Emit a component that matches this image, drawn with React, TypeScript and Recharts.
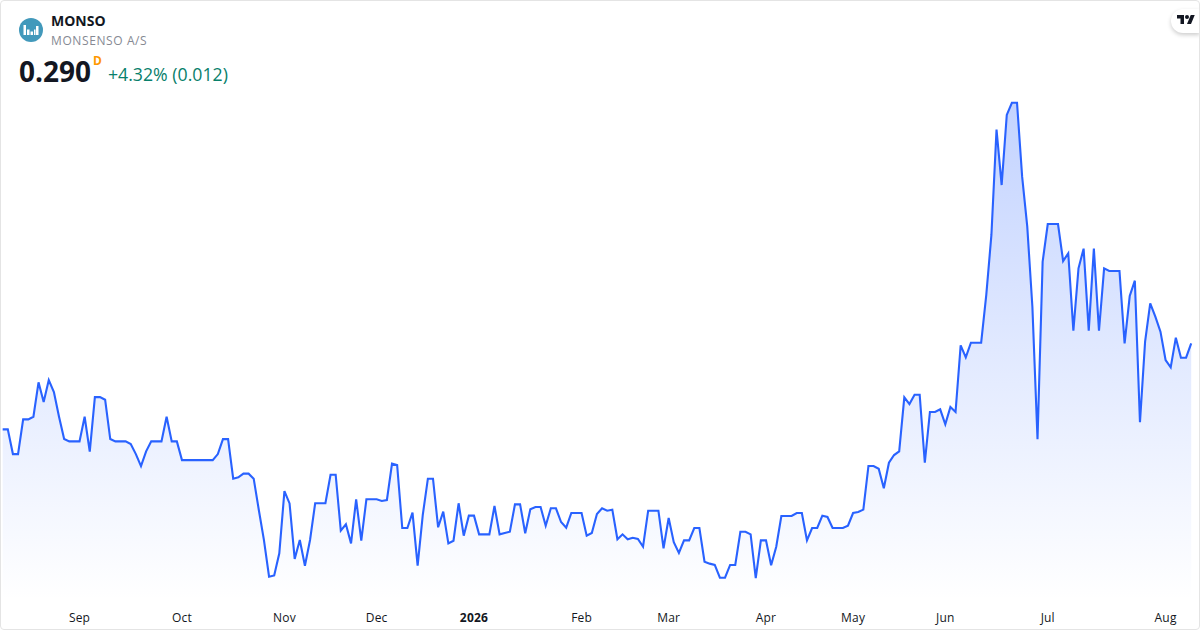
import React from "react";
import { Area, AreaChart, XAxis, YAxis } from "recharts";

// daily closes
const closes = [
  0.2183, 0.2183, 0.1977, 0.1977, 0.2266, 0.2266, 0.2288, 0.2575, 0.2411, 0.2594,
  0.2494, 0.2288, 0.2102, 0.2083, 0.2083, 0.2083, 0.2288, 0.1997, 0.2452, 0.2452,
  0.243, 0.2102, 0.2083, 0.2083, 0.2083, 0.2061, 0.1977, 0.1877, 0.2, 0.2083,
  0.2083, 0.2083, 0.2288, 0.2083, 0.2083, 0.1927, 0.1927, 0.1927, 0.1927, 0.1927,
  0.1927, 0.1927, 0.1977, 0.2102, 0.2102, 0.1772, 0.1783, 0.1814, 0.1814, 0.1772,
  0.1511, 0.126, 0.0955, 0.0966, 0.115, 0.1669, 0.1566, 0.1103, 0.1261, 0.1047,
  0.1261, 0.1567, 0.1567, 0.1567, 0.1805, 0.1805, 0.1339, 0.1392, 0.1233, 0.16,
  0.1255, 0.16, 0.16, 0.16, 0.1586, 0.1594, 0.1897, 0.1886, 0.1361, 0.1361,
  0.1489, 0.1047, 0.1469, 0.1772, 0.1772, 0.1367, 0.1497, 0.1233, 0.1255, 0.1567,
  0.1297, 0.1464, 0.1464, 0.1308, 0.1308, 0.1308, 0.1544, 0.1308, 0.1319, 0.133,
  0.1558, 0.1558, 0.1317, 0.1517, 0.1536, 0.1536, 0.138, 0.1525, 0.1525, 0.1411,
  0.1364, 0.1486, 0.1486, 0.1486, 0.1297, 0.1319, 0.1478, 0.1525, 0.1505, 0.1514,
  0.1267, 0.1308, 0.1267, 0.128, 0.1269, 0.1205, 0.1505, 0.1505, 0.1505, 0.1192,
  0.1444, 0.1242, 0.1153, 0.1258, 0.1258, 0.1361, 0.1361, 0.108, 0.1064, 0.1053,
  0.0947, 0.0947, 0.1053, 0.1053, 0.133, 0.133, 0.1308, 0.0944, 0.1258, 0.1258,
  0.105, 0.1205, 0.1461, 0.1461, 0.1461, 0.1486, 0.1486, 0.1258, 0.1361, 0.1361,
  0.1464, 0.1453, 0.1361, 0.1361, 0.1361, 0.138, 0.1486, 0.1494, 0.1514, 0.1878,
  0.1878, 0.1855, 0.1692, 0.1905, 0.1969, 0.2, 0.245, 0.2394, 0.2472, 0.2472,
  0.1905, 0.2328, 0.2328, 0.235, 0.2225, 0.2369, 0.2328, 0.2883, 0.2783, 0.2905,
  0.2905, 0.2905, 0.3303, 0.3803, 0.4682, 0.4219, 0.4803, 0.4905, 0.4905, 0.4289,
  0.3872, 0.3205, 0.21, 0.358, 0.3894, 0.3894, 0.3894, 0.3586, 0.365, 0.3005,
  0.3525, 0.3689, 0.3005, 0.3689, 0.3005, 0.3525, 0.3503, 0.3503, 0.3503, 0.29,
  0.3294, 0.3422, 0.2242, 0.2914, 0.3233, 0.3122, 0.2997, 0.2761, 0.27, 0.2947,
  0.278, 0.278, 0.29,
];
const tickPositions = [15, 35, 55, 73, 92, 113, 130, 149, 166, 184, 204, 227];
const tickLabels = ["Sep", "Oct", "Nov", "Dec", "2026", "Feb", "Mar", "Apr", "May", "Jun", "Jul", "Aug"];

const chartData = closes.map((close, i) => ({ i, close }));
const FONT = "'Open Sans', 'Noto Sans', sans-serif";

const MonthTick = ({ x, y, payload }: any) => {
  const label = tickLabels[tickPositions.indexOf(payload.value)];
  return (
    <text
      x={x}
      y={y + 14}
      textAnchor="middle"
      fontFamily={FONT}
      fontSize={12}
      letterSpacing={0.2}
      fontWeight={label === "2026" ? 700 : 400}
      fill="#131722"
    >
      {label}
    </text>
  );
};

function Header() {
  return (
    <>
      <svg width={24} height={24} viewBox="0 0 24 24" style={{ position: "absolute", left: 19, top: 18 }}>
        <circle cx={12} cy={12} r={12} fill="#4299BB" />
        <path d="M4.5 7h2.5v10H4.5zM8 11.5h2.5V17H8zM11.5 13.5H14V17h-2.5zM15 11.5h1.5V17H15zM17 8h2.5v9H17z" fill="#fff" />
      </svg>
      <div style={{ position: "absolute", left: 51, top: 12, fontSize: 14, lineHeight: "18px", fontWeight: 700, color: "#131722" }}>
        MONSO
      </div>
      <div style={{ position: "absolute", left: 51, top: 33, fontSize: 12, lineHeight: "16px", color: "#868993", letterSpacing: 0.6 }}>
        MONSENSO A/S
      </div>
      <div style={{ position: "absolute", left: 19, top: 52, fontSize: 28, lineHeight: "38px", fontWeight: 700, color: "#131722" }}>
        0.290
      </div>
      <div style={{ position: "absolute", left: 93, top: 53, fontSize: 12, lineHeight: "16px", fontWeight: 700, color: "#FF9800" }}>
        D
      </div>
      <div style={{ position: "absolute", left: 108, top: 62, fontSize: 17.7, lineHeight: "24px", color: "#08806B" }}>
        +4.32% (0.012)
      </div>
    </>
  );
}

function Badge() {
  return (
    <div
      style={{
        position: "absolute",
        left: 1171,
        top: 9,
        width: 29,
        height: 24,
        background: "#fff",
        borderRadius: "12px 0 0 12px",
        boxShadow: "0 2px 4px rgba(0,0,0,0.2)",
      }}
    >
      <svg width={18} height={14} viewBox="0 0 36 28" style={{ position: "absolute", left: 6, top: 4 }}>
        <path d="M14 22H7V11H0V4h14v18zM28 22h-8l7.5-18h8L28 22z" fill="#131722" />
        <circle cx={20} cy={8} r={4} fill="#131722" />
      </svg>
    </div>
  );
}

export default function App() {
  return (
    <div style={{ position: "relative", width: 1200, height: 630, overflow: "hidden", background: "#fff", fontFamily: FONT }}>
      <style>{`body{margin:0}`}</style>
      <AreaChart width={1200} height={630} data={chartData} margin={{ top: 0, right: 8.8, bottom: 0, left: 2.67 }}>
        <defs>
          <linearGradient id="closeFill" x1="0" y1="0" x2="0" y2="1">
            <stop offset="0%" stopColor="#2962FF" stopOpacity={0.28} />
            <stop offset="100%" stopColor="#2962FF" stopOpacity={0} />
          </linearGradient>
        </defs>
        <XAxis
          dataKey="i"
          type="number"
          domain={[0, closes.length - 1]}
          ticks={tickPositions}
          interval={0}
          height={30}
          tick={MonthTick}
          tickLine={false}
          axisLine={false}
        />
        <YAxis hide domain={[0.0761, 0.5761]} allowDataOverflow />
        <Area
          type="linear"
          dataKey="close"
          stroke="#2962FF"
          strokeWidth={2.1}
          fill="url(#closeFill)"
          fillOpacity={1}
          dot={false}
          activeDot={false}
          isAnimationActive={false}
        />
      </AreaChart>
      <Header />
      <Badge />
      <div style={{ position: "absolute", inset: 0, border: "1px solid #E4E4E4", borderRadius: 4, boxSizing: "border-box", pointerEvents: "none" }} />
    </div>
  );
}
